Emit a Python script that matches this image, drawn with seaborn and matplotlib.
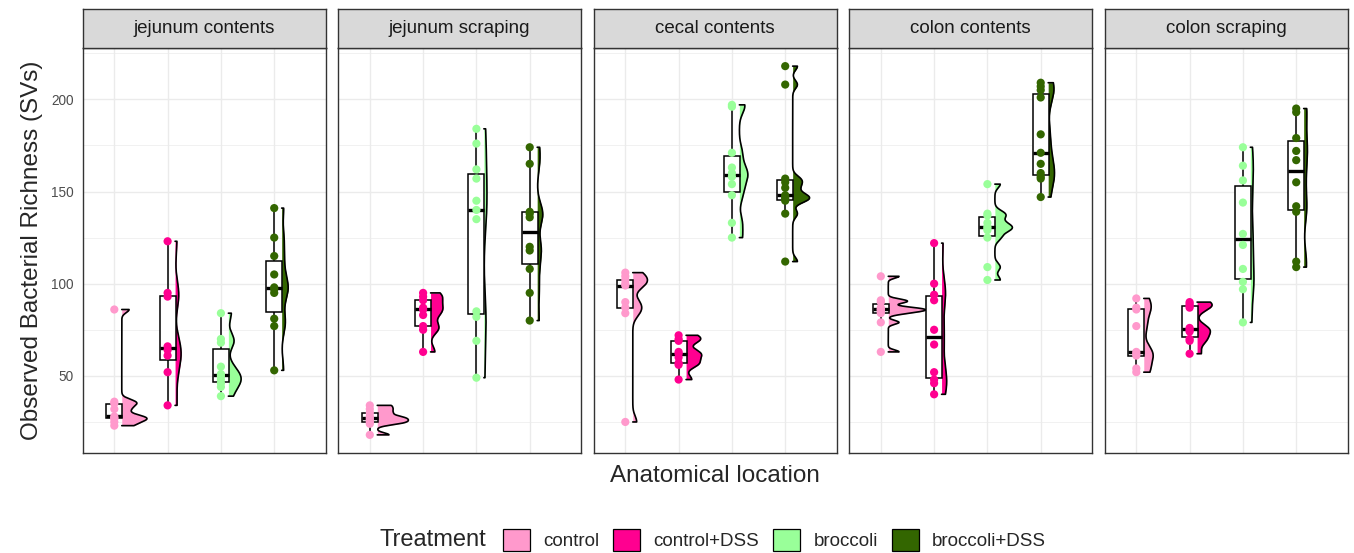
import numpy as np
import pandas as pd
import matplotlib
matplotlib.use("Agg")
import matplotlib.pyplot as plt
from matplotlib.patches import Patch
from matplotlib.ticker import FixedLocator
import seaborn as sns

# ---- data -------------------------------------------------------------
locations = ["jejunum contents", "jejunum scraping", "cecal contents",
             "colon contents", "colon scraping"]
treatments = ["control", "control+DSS", "broccoli", "broccoli+DSS"]
colors = ["#FF99CC", "#FF0090", "#99FF99", "#336600"]

jejunum_contents = {
    "control": [86, 36, 35, 32, 28, 27, 27, 25, 23],
    "control+DSS": [123, 95, 93, 66, 64, 61, 52, 34],
    "broccoli": [84, 70, 68, 55, 51, 50, 48, 46, 44, 39],
    "broccoli+DSS": [141, 125, 115, 105, 98, 97, 95, 81, 77, 53],
}
jejunum_scraping = {
    "control": [34, 32, 30, 28, 27, 26, 25, 24, 18],
    "control+DSS": [95, 93, 91, 87, 86, 83, 77, 75, 63],
    "broccoli": [184, 176, 162, 157, 145, 140, 135, 85, 82, 69, 49],
    "broccoli+DSS": [174, 165, 139, 138, 136, 120, 118, 108, 95, 80],
}
cecal_contents = {
    "control": [106, 104, 102, 100, 99, 90, 87, 84, 25],
    "control+DSS": [72, 70, 69, 63, 62, 60, 57, 56, 48],
    "broccoli": [197, 196, 171, 163, 160, 158, 154, 148, 133, 125],
    "broccoli+DSS": [218, 208, 157, 155, 152, 148, 147, 146, 145, 138, 112],
}
colon_contents = {
    "control": [104, 91, 90, 87, 86, 86, 85, 84, 79, 63],
    "control+DSS": [122, 100, 94, 91, 75, 67, 52, 48, 46, 40],
    "broccoli": [154, 138, 137, 133, 131, 130, 129, 125, 109, 102],
    "broccoli+DSS": [209, 207, 205, 201, 181, 171, 165, 160, 158, 157, 147],
}
colon_scraping = {
    "control": [92, 87, 86, 77, 63, 62, 61, 54, 52],
    "control+DSS": [90, 89, 88, 87, 76, 75, 74, 70, 69, 62],
    "broccoli": [174, 164, 156, 144, 127, 121, 108, 101, 97, 79],
    "broccoli+DSS": [195, 193, 179, 172, 167, 155, 142, 139, 112, 109],
}
by_location = [jejunum_contents, jejunum_scraping, cecal_contents,
               colon_contents, colon_scraping]

rows = []
for loc, groups in zip(locations, by_location):
    for trt in treatments:
        for v in groups[trt]:
            rows.append((loc, trt, v))
df = pd.DataFrame(rows, columns=["location", "treatment", "richness"])

# ---- style ------------------------------------------------------------
sns.set_style("white")
plt.rcParams["font.family"] = ["Liberation Sans", "DejaVu Sans"]

GRID = "#EBEBEB"
FRAME = "#333333"
BW_ADJUST = 0.5


def bw_nrd0(x):
    x = np.asarray(x, float)
    sd = np.std(x, ddof=1)
    q75, q25 = np.percentile(x, [75, 25])
    lo = min(sd, (q75 - q25) / 1.34)
    if lo == 0:
        lo = sd if sd > 0 else 1.0
    return 0.9 * lo * len(x) ** -0.2


def half_density(x, n=512):
    x = np.asarray(x, float)
    bw = bw_nrd0(x) * BW_ADJUST
    grid = np.linspace(x.min(), x.max(), n)
    z = (grid[:, None] - x[None, :]) / bw
    dens = np.exp(-0.5 * z ** 2).sum(axis=1) / (len(x) * bw * np.sqrt(2 * np.pi))
    return grid, dens


densities = {}
for loc, groups in zip(locations, by_location):
    for trt in treatments:
        densities[(loc, trt)] = half_density(groups[trt])
dens_max = max(d.max() for _, d in densities.values())
VIOLIN_WIDTH = 0.70
NUDGE = 0.14

ymin, ymax = df["richness"].min(), df["richness"].max()
pad = 0.05 * (ymax - ymin)
ylim = (ymin - pad, ymax + pad)

# ---- figure -----------------------------------------------------------
W, H = 1354, 553
fig = plt.figure(figsize=(W / 100, H / 100), dpi=100)

panel_left0, panel_step, panel_w = 82.7, 255.5, 243.0
panel_top, panel_bottom, strip_top = 47.7, 453.3, 9.3

for i, (loc, groups) in enumerate(zip(locations, by_location)):
    left = panel_left0 + i * panel_step
    ax = fig.add_axes([left / W, (H - panel_bottom) / H, panel_w / W,
                       (panel_bottom - panel_top) / H])
    sub = df[df["location"] == loc]

    # half violins, placed to the right of each box
    for j, (trt, col) in enumerate(zip(treatments, colors)):
        grid, dens = densities[(loc, trt)]
        w = dens / dens_max * VIOLIN_WIDTH
        base = j + NUDGE
        ax.fill_betweenx(grid, base, base + w, color=col, lw=0, zorder=1.5)
        ax.plot(np.r_[base, base + w, base], np.r_[grid[0], grid, grid[-1]],
                color="black", lw=1.2, zorder=1.6, solid_joinstyle="round")

    sns.boxplot(data=sub, x="treatment", y="richness", order=treatments,
                width=0.3, color="white", linecolor="black", linewidth=1.1,
                showfliers=False, showcaps=False, saturation=1,
                medianprops=dict(linewidth=2.4), ax=ax)
    sns.stripplot(data=sub, x="treatment", y="richness", order=treatments,
                  hue="treatment", hue_order=treatments, palette=colors,
                  jitter=False, size=5.9, linewidth=0, legend=False,
                  zorder=3, ax=ax)

    ax.set_xlim(-0.593, 3.966)
    ax.set_ylim(*ylim)
    ax.set_xlabel("")
    ax.set_ylabel("")
    ax.set_xticks(range(4))
    ax.set_xticklabels([])
    ax.set_yticks([50, 100, 150, 200])
    ax.yaxis.set_minor_locator(FixedLocator([25, 75, 125, 175, 225]))
    ax.set_axisbelow(True)
    ax.grid(which="major", color=GRID, lw=1.0)
    ax.grid(which="minor", axis="y", color=GRID, lw=0.5)
    ax.tick_params(axis="both", which="major", length=4.0, width=0.9,
                   color=FRAME, labelsize=9.8, labelcolor="#4D4D4D", pad=2.5)
    ax.tick_params(which="minor", length=0)
    if i > 0:
        ax.tick_params(axis="y", left=False, labelleft=False)
    for s in ax.spines.values():
        s.set_color(FRAME)
        s.set_linewidth(1.0)
        s.set_visible(True)

    # facet strip
    sax = fig.add_axes([left / W, (H - panel_top) / H, panel_w / W,
                        (panel_top - strip_top) / H])
    sax.set_facecolor("#D9D9D9")
    sax.set_xticks([])
    sax.set_yticks([])
    for s in sax.spines.values():
        s.set_color(FRAME)
        s.set_linewidth(1.0)
        s.set_visible(True)
    sax.text(0.5, 0.5, loc, ha="center", va="center", fontsize=13.5,
             color="#1A1A1A", transform=sax.transAxes)

# axis titles
fig.text(32 / W, (H - 250) / H, "Observed Bacterial Richness (SVs)",
         rotation=90, ha="center", va="center", fontsize=17.5)
fig.text(714.7 / W, (H - 476) / H, "Anatomical location",
         ha="center", va="center", fontsize=17.5)

# legend
fig.text(380 / W, (H - 540) / H, "Treatment", ha="left", va="center",
         fontsize=17)
handles = [Patch(facecolor=c, edgecolor="black", lw=0.9) for c in colors]
fig.legend(handles, treatments, loc="center left",
           bbox_to_anchor=(503 / W, (H - 540) / H), ncol=4, frameon=False,
           fontsize=13.5, handlelength=1.44, handleheight=1.44,
           handletextpad=0.7, columnspacing=0.75, borderpad=0,
           borderaxespad=0)

fig.savefig("out.png", dpi=100)
